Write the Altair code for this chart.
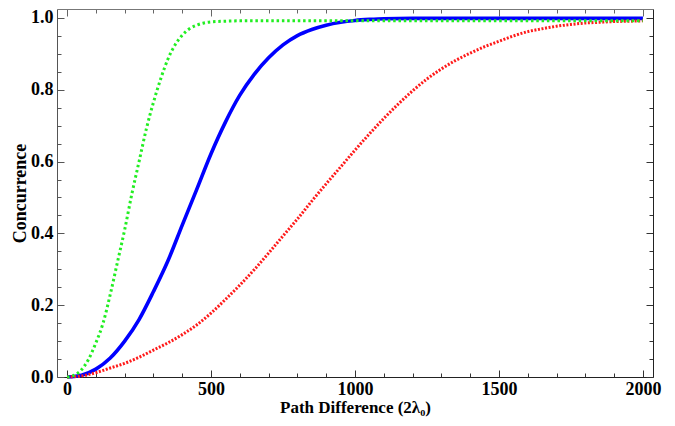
import altair as alt
import pandas as pd

# Green (dotted, fastest rise)
green_x = [0, 25, 50, 75, 100, 125, 150, 175, 200, 225, 250, 275, 300, 325, 350,
           375, 400, 425, 450, 475, 500, 550, 600, 700, 800, 1000, 1200, 1400,
           1600, 1800, 2000]
green_y = [0.0, 0.005, 0.02, 0.05, 0.095, 0.15, 0.23, 0.32, 0.41, 0.51, 0.60,
           0.69, 0.765, 0.83, 0.885, 0.925, 0.952, 0.97, 0.98, 0.986, 0.989,
           0.991, 0.992, 0.992, 0.992, 0.992, 0.992, 0.992, 0.992, 0.992, 0.992]

# Blue (solid)
blue_x = [0, 50, 100, 150, 200, 250, 300, 350, 400, 450, 500, 550, 600, 650, 700,
          750, 800, 850, 900, 950, 1000, 1050, 1100, 1200, 1400, 1600, 1800, 2000]
blue_y = [0.0, 0.005, 0.022, 0.053, 0.10, 0.16, 0.238, 0.323, 0.423, 0.522, 0.622,
          0.71, 0.785, 0.843, 0.889, 0.925, 0.951, 0.968, 0.98, 0.988, 0.993,
          0.996, 0.998, 0.999, 0.999, 0.999, 0.999, 0.999]

# Red (dotted, slowest rise)
red_x = [0, 50, 100, 150, 200, 250, 300, 350, 400, 450, 500, 550, 600, 650, 700,
         750, 800, 850, 900, 950, 1000, 1050, 1100, 1150, 1200, 1250, 1300, 1350,
         1400, 1450, 1500, 1550, 1600, 1650, 1700, 1750, 1800, 1850, 1900, 1950, 2000]
red_y = [0.0, 0.003, 0.012, 0.025, 0.038, 0.055, 0.075, 0.095, 0.118, 0.145, 0.178,
         0.216, 0.256, 0.299, 0.345, 0.393, 0.44, 0.49, 0.538, 0.585, 0.632, 0.677,
         0.72, 0.76, 0.797, 0.83, 0.858, 0.882, 0.902, 0.92, 0.935, 0.95, 0.962,
         0.97, 0.977, 0.982, 0.986, 0.988, 0.99, 0.991, 0.992]

x_ticks_major = [0, 500, 1000, 1500, 2000]
x_ticks_all = list(range(0, 2001, 100))
y_ticks_major = [0.0, 0.2, 0.4, 0.6, 0.8, 1.0]
y_ticks_all = [round(i * 0.05, 2) for i in range(0, 21)]

df_g = pd.DataFrame({"x": green_x, "y": green_y})
df_b = pd.DataFrame({"x": blue_x, "y": blue_y})
df_r = pd.DataFrame({"x": red_x, "y": red_y})

W, H = 596, 368
FONT = "Liberation Serif"

xs = alt.Scale(domain=[-35, 2035], nice=False, zero=False)
ys = alt.Scale(domain=[0, 1.025], nice=False, zero=False)

x_tick_size = {"condition": {"test": "datum.value % 500 === 0", "value": 7}, "value": 4}
y_tick_size = {"condition": {"test": "abs(datum.value*5 - round(datum.value*5)) < 0.001",
                             "value": 7}, "value": 4}

x_main = alt.Axis(values=x_ticks_major, format="d", title="Path Difference (2λ₀)",
                  ticks=False, grid=False, domain=True, domainColor="#222",
                  labelFont=FONT, labelFontSize=18, labelFontWeight="bold",
                  labelColor="black", labelPadding=3,
                  titleFont=FONT, titleFontSize=17, titleFontWeight="bold",
                  titleColor="black", titlePadding=1)
y_main = alt.Axis(values=y_ticks_major, format=".1f", title="Concurrence",
                  ticks=False, grid=False, domain=True, domainColor="#555",
                  labelFont=FONT, labelFontSize=18, labelFontWeight="bold",
                  labelColor="black", labelPadding=4,
                  titleFont=FONT, titleFontSize=18, titleFontWeight="bold",
                  titleColor="black", titlePadding=1)

blue = alt.Chart(df_b).mark_line(color="#0000FF", strokeWidth=3.6, interpolate="monotone").encode(
    x=alt.X("x:Q", scale=xs, axis=x_main),
    y=alt.Y("y:Q", scale=ys, axis=y_main),
)
red = alt.Chart(df_r).mark_line(color="#FF1A1A", strokeWidth=3, strokeDash=[2, 1.6],
                                interpolate="monotone").encode(
    x=alt.X("x:Q", scale=xs, axis=None),
    y=alt.Y("y:Q", scale=ys, axis=None),
)
green = alt.Chart(df_g).mark_line(color="#22EE22", strokeWidth=3, strokeDash=[2.5, 2.8],
                                  interpolate="monotone").encode(
    x=alt.X("x:Q", scale=xs, axis=None),
    y=alt.Y("y:Q", scale=ys, axis=None),
)

def tick_axis(orient, values, size, offset, color):
    return alt.Axis(orient=orient, values=values, labels=False, title=None, grid=False,
                    domain=False, ticks=True, tickSize=size, offset=offset,
                    tickColor=color, tickWidth=1)

# inner ticks: bottom edge (pointing up) and left edge (pointing right)
ticks_a = alt.Chart(df_b).mark_point(opacity=0).encode(
    x=alt.X("x:Q", scale=xs, axis=tick_axis("top", x_ticks_all, x_tick_size, -H, "#333")),
    y=alt.Y("y:Q", scale=ys, axis=tick_axis("right", y_ticks_all, y_tick_size, -W, "#555")),
)
# inner ticks: top edge (pointing down) and right edge (pointing left)
ticks_b = alt.Chart(df_b).mark_point(opacity=0).encode(
    x=alt.X("x:Q", scale=xs, axis=tick_axis("bottom", x_ticks_all, x_tick_size, -H, "#666")),
    y=alt.Y("y:Q", scale=ys, axis=tick_axis("left", y_ticks_all, y_tick_size, -W, "#333")),
)
# frame lines for top and right
frame = alt.Chart(df_b).mark_point(opacity=0).encode(
    x=alt.X("x:Q", scale=xs, axis=alt.Axis(orient="top", labels=False, ticks=False, title=None,
                                            grid=False, domain=True, domainColor="#777")),
    y=alt.Y("y:Q", scale=ys, axis=alt.Axis(orient="right", labels=False, ticks=False, title=None,
                                            grid=False, domain=True, domainColor="#222")),
)

chart = alt.layer(blue, red, green, ticks_a, ticks_b, frame).resolve_axis(
    x="independent", y="independent"
).properties(
    width=W, height=H,
    autosize=alt.AutoSizeParams(type="none"),
    padding={"left": 49, "top": 1, "right": 10, "bottom": 41},
).configure_view(stroke=None)

chart.save("out.html", embed_options={"renderer": "svg", "actions": False})
